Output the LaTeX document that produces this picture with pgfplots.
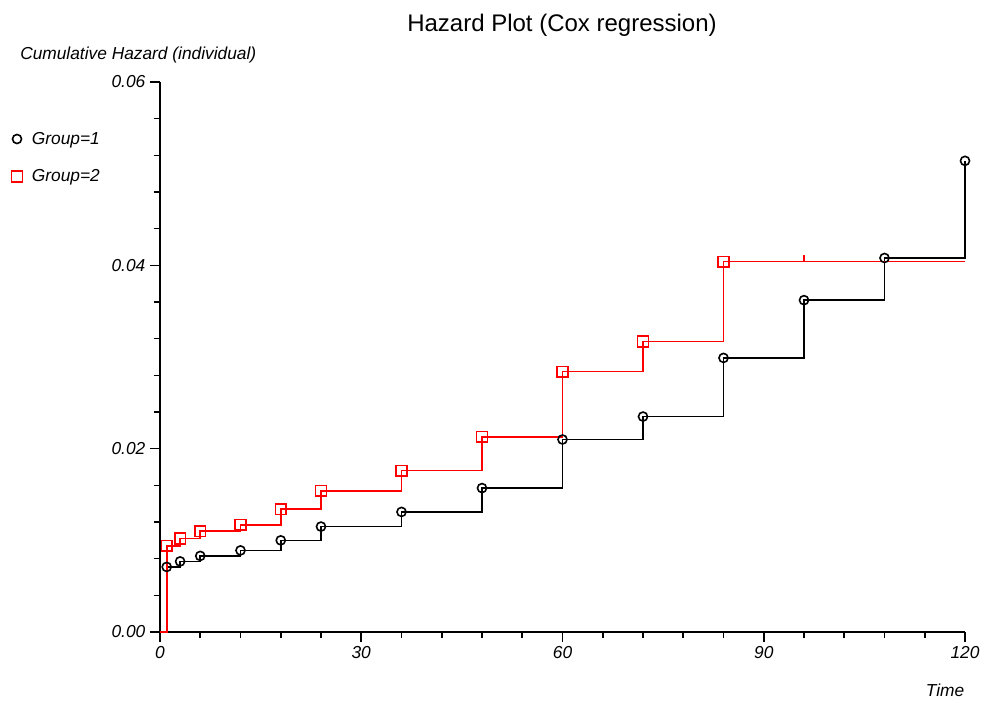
\documentclass[border=0pt]{standalone}
\usepackage{fontspec}
\setmainfont{Liberation Sans}
\usepackage{pgfplots}
\pgfplotsset{compat=1.18}
\newcommand\lbl{\fontsize{13pt}{15.6pt}\selectfont}
\newcommand\ttl{\fontsize{18pt}{21.6pt}\selectfont}
\begin{document}
\begin{tikzpicture}
\path[use as bounding box] (-120pt,-54pt) rectangle (620.25pt,474pt);
\begin{axis}[
  at={(0,0)}, anchor=south west, scale only axis,
  width=603.75pt, height=412.5pt,
  xmin=0, xmax=120, ymin=0, ymax=0.06,
  clip=false,
  axis lines=left,
  axis line style={-, line width=1.2pt},
  tick align=outside,
  major tick length=7.5pt, minor tick length=4.5pt,
  every tick/.style={black, line width=1.2pt},
  xtick={0,30,60,90,120}, ytick={0,0.02,0.04,0.06},
  minor x tick num=4, minor y tick num=4,
  scaled y ticks=false,
  yticklabel style={/pgf/number format/.cd, fixed, zerofill, precision=2},
  /pgf/number format/assume math mode=true,
  tick label style={font=\lbl\itshape},
  legend style={at={(axis description cs:-0.186,0.9145)}, anchor=north west,
    draw=none, fill=none, font=\lbl\itshape, row sep=13.5pt, inner sep=0pt},
  legend cell align=left,
  legend image code/.code={\path (0cm,0cm) (0.45cm,0cm); \draw[#1] plot coordinates {(0.15cm,0cm)};},
]
% Group 1 (black)
\addplot[black, line width=1.2pt, const plot, forget plot] coordinates {
(0,0) (1,0.0071) (3,0.0077) (6,0.0083) (12,0.0089) (18,0.0100) (24,0.0115)
(36,0.0131) (48,0.0157) (60,0.0210) (72,0.0235) (84,0.0299) (96,0.0362)
(108,0.0408) (120,0.0514)};
\addplot[black, only marks, mark=o, mark size=3.4pt, line width=1.2pt] coordinates {
(1,0.0071) (3,0.0077) (6,0.0083) (12,0.0089) (18,0.0100) (24,0.0115)
(36,0.0131) (48,0.0157) (60,0.0210) (72,0.0235) (84,0.0299) (96,0.0362)
(108,0.0408) (120,0.0514)};
\addlegendentry{Group=1}
% Group 2 (red)
\addplot[red, line width=1.2pt, const plot, forget plot] coordinates {
(0,0) (1,0.0094) (3,0.0102) (6,0.0110) (12,0.0117) (18,0.0134) (24,0.0154)
(36,0.0176) (48,0.0213) (60,0.0284) (72,0.0317) (84,0.0404) (120,0.0404)};
\addplot[red, only marks, mark=square, mark size=4pt, line width=1.2pt] coordinates {
(1,0.0094) (3,0.0102) (6,0.0110) (12,0.0117) (18,0.0134) (24,0.0154)
(36,0.0176) (48,0.0213) (60,0.0284) (72,0.0317) (84,0.0404)};
\addlegendentry{Group=2}
\addplot[red, only marks, mark=|, mark size=2.5pt, line width=1.2pt,
  mark options={yshift=2.5pt}, forget plot] coordinates {(96,0.0404)};
\end{axis}
\node[font=\ttl] at (301.5pt,455.25pt) {Hazard Plot (Cox regression)};
\node[font=\lbl\itshape, anchor=west, inner sep=0pt] at (-105pt,432.75pt) {Cumulative Hazard (individual)};
\node[font=\lbl\itshape] at (588.75pt,-43.5pt) {Time};
\end{tikzpicture}
\end{document}
